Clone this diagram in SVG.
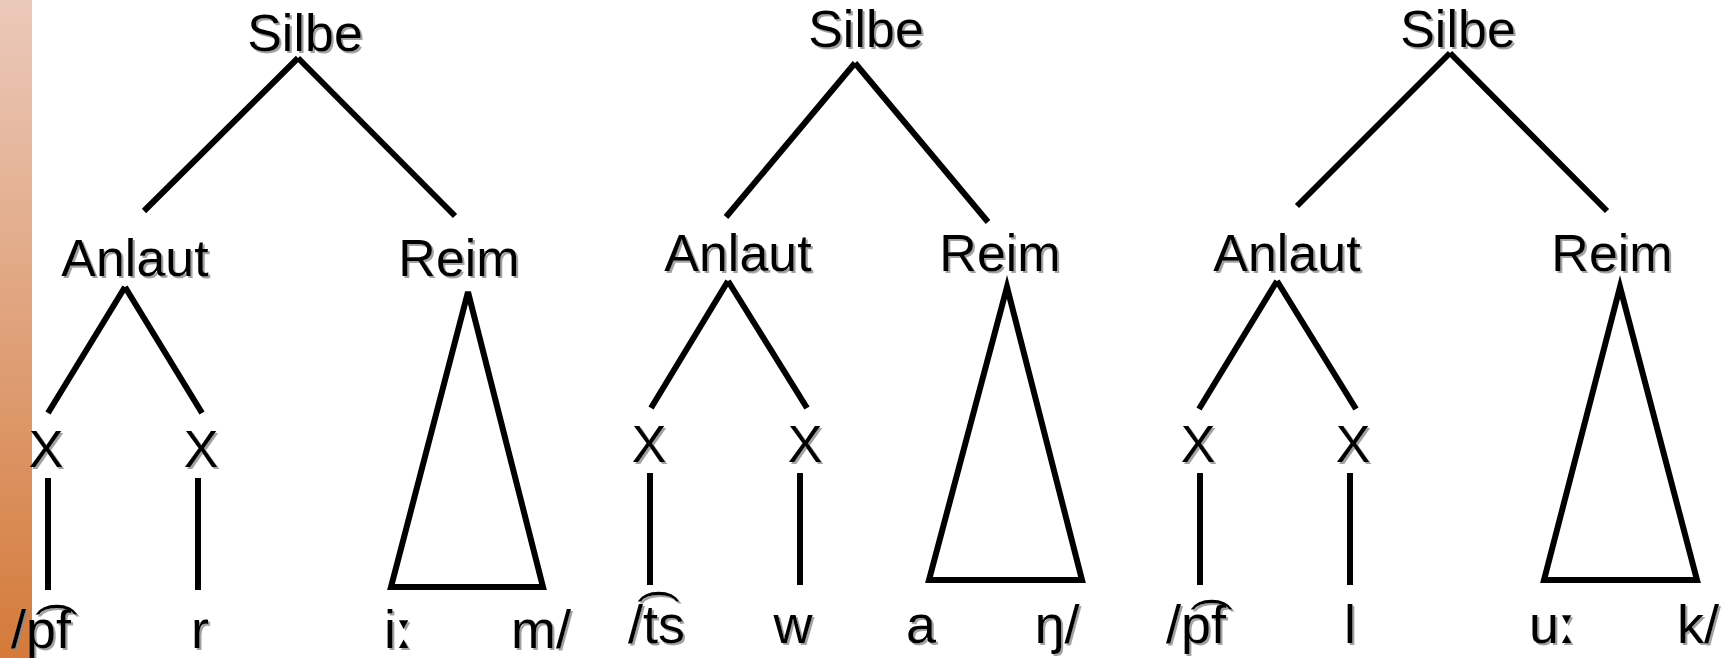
<svg xmlns="http://www.w3.org/2000/svg" width="1731" height="658" viewBox="0 0 1731 658">
<defs>
<linearGradient id="bar" x1="0" y1="0" x2="0" y2="1">
<stop offset="0" stop-color="#ebc9bb"/>
<stop offset="1" stop-color="#d47a3a"/>
</linearGradient>
<filter id="sh" x="-10%" y="-10%" width="130%" height="130%">
<feDropShadow dx="2" dy="2" stdDeviation="0.6" flood-color="#8a8a8a" flood-opacity="0.8"/>
</filter>
</defs>
<style>
text{font-family:"Liberation Sans","DejaVu Sans",Arial,sans-serif;fill:#000;filter:url(#sh)}
.lab{font-size:52px;text-anchor:middle}
.seg{font-size:54px}
.mid{text-anchor:middle}
.len{font-family:"DejaVu Sans",sans-serif}
.ln{stroke:#000;stroke-width:6;fill:none;stroke-linecap:butt}
.tri{stroke:#000;stroke-width:6;fill:none;stroke-linejoin:miter}
</style>
<rect x="0" y="0" width="1731" height="658" fill="#fff"/>
<rect x="0" y="0" width="32" height="658" fill="url(#bar)"/>

<g id="connectors">
<!-- tree 1 -->
<line class="ln" x1="298" y1="58" x2="144" y2="211"/>
<line class="ln" x1="298" y1="58" x2="455" y2="216"/>
<line class="ln" x1="125" y1="287" x2="48" y2="413"/>
<line class="ln" x1="125" y1="287" x2="202" y2="413"/>
<line class="ln" x1="48" y1="478" x2="48" y2="590"/>
<line class="ln" x1="198" y1="478" x2="198" y2="590"/>
<polygon class="tri" points="468,292 391,587 543,587"/>
<!-- tree 2 -->
<line class="ln" x1="855" y1="63" x2="726" y2="217"/>
<line class="ln" x1="855" y1="63" x2="988" y2="222"/>
<line class="ln" x1="728" y1="281" x2="651" y2="408"/>
<line class="ln" x1="728" y1="281" x2="807" y2="408"/>
<line class="ln" x1="650" y1="473" x2="650" y2="585"/>
<line class="ln" x1="800" y1="473" x2="800" y2="585"/>
<polygon class="tri" points="1007,287 929,580 1082,580"/>
<!-- tree 3 -->
<line class="ln" x1="1450" y1="53" x2="1297" y2="206"/>
<line class="ln" x1="1450" y1="53" x2="1607" y2="211"/>
<line class="ln" x1="1277" y1="281" x2="1199" y2="409"/>
<line class="ln" x1="1277" y1="281" x2="1356" y2="409"/>
<line class="ln" x1="1200" y1="473" x2="1200" y2="585"/>
<line class="ln" x1="1350" y1="473" x2="1350" y2="585"/>
<polygon class="tri" points="1620,287 1544,580 1697,580"/>
</g>

<g id="tree1">
<g id="t1-silbe"><text class="lab" x="305" y="51">Silbe</text></g>
<g id="t1-anlaut"><text class="lab" x="135" y="276">Anlaut</text></g>
<g id="t1-reim"><text class="lab" x="459" y="276">Reim</text></g>
<g id="t1-x1"><text class="lab" x="46" y="467">X</text></g>
<g id="t1-x2"><text class="lab" x="201" y="467">X</text></g>
<g id="t1-s1"><text class="seg" x="11" y="648">/p͡f</text></g>
<g id="t1-s2"><text class="seg mid" x="200" y="648">r</text></g>
<g id="t1-s3"><text class="seg" x="384" y="648">i<tspan class="len">ː</tspan></text></g>
<g id="t1-s4"><text class="seg mid" x="541" y="648">m/</text></g>
</g>

<g id="tree2">
<g id="t2-silbe"><text class="lab" x="866" y="47">Silbe</text></g>
<g id="t2-anlaut"><text class="lab" x="738" y="271">Anlaut</text></g>
<g id="t2-reim"><text class="lab" x="1000" y="271">Reim</text></g>
<g id="t2-x1"><text class="lab" x="649" y="462">X</text></g>
<g id="t2-x2"><text class="lab" x="805" y="462">X</text></g>
<g id="t2-s1"><text class="seg" x="628" y="643">/t͡s</text></g>
<g id="t2-s2"><text class="seg mid" x="793" y="643">w</text></g>
<g id="t2-s3"><text class="seg mid" x="921" y="643">a</text></g>
<g id="t2-s4"><text class="seg mid" x="1057" y="643">ŋ/</text></g>
</g>

<g id="tree3">
<g id="t3-silbe"><text class="lab" x="1458" y="47">Silbe</text></g>
<g id="t3-anlaut"><text class="lab" x="1287" y="271">Anlaut</text></g>
<g id="t3-reim"><text class="lab" x="1612" y="271">Reim</text></g>
<g id="t3-x1"><text class="lab" x="1198" y="462">X</text></g>
<g id="t3-x2"><text class="lab" x="1353" y="462">X</text></g>
<g id="t3-s1"><text class="seg" x="1166" y="643">/p͡f</text></g>
<g id="t3-s2"><text class="seg mid" x="1350" y="643">l</text></g>
<g id="t3-s3"><text class="seg" x="1529" y="643">u<tspan class="len">ː</tspan></text></g>
<g id="t3-s4"><text class="seg mid" x="1698" y="643">k/</text></g>
</g>
</svg>
